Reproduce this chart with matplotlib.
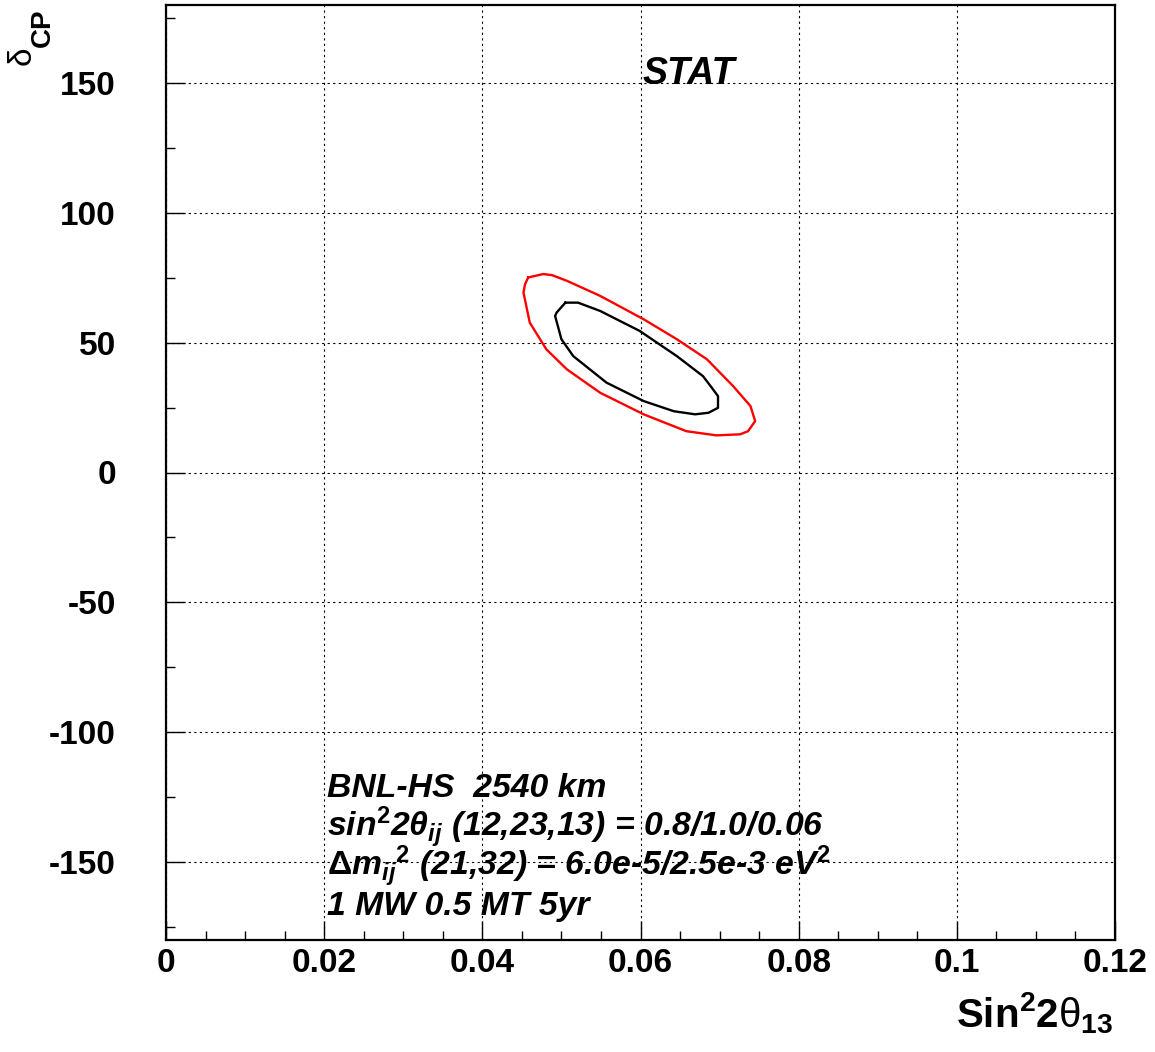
import matplotlib
matplotlib.use('Agg')
import matplotlib.pyplot as plt
import numpy as np

plt.rcParams['font.family'] = 'Liberation Sans'
plt.rcParams['font.weight'] = 'bold'
plt.rcParams['mathtext.fontset'] = 'custom'
plt.rcParams['mathtext.rm'] = 'Liberation Sans:bold'
plt.rcParams['mathtext.bf'] = 'Liberation Sans:bold'
plt.rcParams['mathtext.it'] = 'Liberation Sans:bold:italic'
plt.rcParams['mathtext.sf'] = 'Liberation Sans:weight=normal'

# 90% contour (red)
red_s2t = [0.0458, 0.0477, 0.0488, 0.0507, 0.0549, 0.0604, 0.0646, 0.0684, 0.0717,
           0.0739, 0.0745, 0.0736, 0.0726, 0.0696, 0.0658, 0.0604, 0.0549, 0.0507,
           0.0481, 0.0460, 0.0452, 0.0454]
red_dcp = [75.1, 76.4, 76.0, 73.8, 68.0, 59.0, 51.3, 43.6, 33.3,
           25.6, 19.8, 15.9, 14.7, 14.3, 15.9, 22.4, 30.7, 39.7,
           47.4, 57.7, 69.3, 72.5]

# 68% contour (black)
blk_s2t = [0.0505, 0.0521, 0.0549, 0.0599, 0.0646, 0.0679, 0.0690, 0.0698, 0.0698,
           0.0686, 0.0669, 0.0642, 0.0604, 0.0557, 0.0515, 0.0500, 0.0492, 0.0494]
blk_dcp = [65.4, 65.4, 62.2, 54.5, 44.8, 37.1, 32.7, 29.4, 24.9,
           23.0, 22.4, 23.6, 27.5, 34.6, 44.8, 51.3, 60.3, 61.6]

x_ticks = [0, 0.02, 0.04, 0.06, 0.08, 0.1, 0.12]
x_tick_labels = ['0', '0.02', '0.04', '0.06', '0.08', '0.1', '0.12']
y_ticks = [-150, -100, -50, 0, 50, 100, 150]
y_tick_labels = ['-150', '-100', '-50', '0', '50', '100', '150']

info_lines = [
    'BNL-HS  2540 km',
    r'sin$^{2}$2$\theta_{ij}$ (12,23,13) = 0.8/1.0/0.06',
    r'$\Delta$m$_{ij}$$^{2}$ (21,32) = 6.0e-5/2.5e-3 eV$^{2}$',
    '1 MW 0.5 MT 5yr',
]

fig = plt.figure(figsize=(11.55, 10.52), dpi=100)
ax = fig.add_axes([166 / 1155, 1 - 940 / 1052, 949 / 1155, 935 / 1052])

ax.plot(np.append(red_s2t, red_s2t[0]), np.append(red_dcp, red_dcp[0]), color='#ff0000', lw=1.7)
ax.plot(np.append(blk_s2t, blk_s2t[0]), np.append(blk_dcp, blk_dcp[0]), color='black', lw=1.7)

ax.set_xlim(0, 0.12)
ax.set_ylim(-180, 180)
ax.set_xticks(x_ticks)
ax.set_xticklabels(x_tick_labels)
ax.set_yticks(y_ticks)
ax.set_yticklabels(y_tick_labels)
ax.set_xticks(np.arange(0, 0.1201, 0.005), minor=True)
ax.set_yticks(np.arange(-175, 176, 25), minor=True)
ax.tick_params(which='major', direction='in', length=13.5, width=1, labelsize=24, color='black')
ax.tick_params(which='minor', direction='in', length=6.5, width=1, color='black')
ax.tick_params(axis='x', which='major', pad=6)
ax.tick_params(axis='y', which='major', pad=36)
for lab in ax.get_xticklabels() + ax.get_yticklabels():
    lab.set_fontweight('bold')
ax.grid(True, which='major', color='black', linestyle=(0, (2, 3)), lw=0.8)
for sp in ax.spines.values():
    sp.set_linewidth(1.6)

ax.text(0.5026, 0.9155, 'STAT', transform=ax.transAxes, fontsize=27,
        fontweight='bold', fontstyle='italic', va='baseline', ha='left')

for i, line in enumerate(info_lines):
    ax.text(0.1697, (940 - 797 - i * 39.3) / 935, line, transform=ax.transAxes,
            fontsize=24.3, fontweight='bold', fontstyle='italic', va='baseline', ha='left')

fig.text(1113 / 1155, (1052 - 1027) / 1052,
         r'$\mathrm{Sin^{2}2}\mathsf{\theta}_{\mathrm{13}}$',
         fontsize=29, ha='right', va='baseline')

# y title: thin delta plus bold "CP" subscript
fig.text(23 / 1155, 1 - 67 / 1052, r'$\mathsf{\delta}$',
         fontsize=24, rotation=90, ha='center', va='bottom')
fig.text(43 / 1155, 1 - 47 / 1052, 'CP',
         fontsize=20, fontweight='bold', rotation=90, ha='center', va='bottom')

fig.savefig('out.png', dpi=100)
